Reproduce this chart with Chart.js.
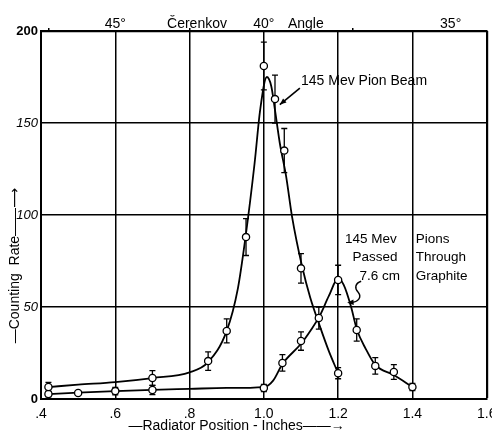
<!DOCTYPE html>
<html><head><meta charset="utf-8">
<script src="https://cdn.jsdelivr.net/npm/chart.js@4.4.0/dist/chart.umd.min.js"></script>
<style>html,body{margin:0;padding:0;background:#fff}canvas{display:block}</style>
</head><body>
<canvas id="c" width="492" height="432"></canvas>
<script>
// ---- axes ----
const xTickValues = [0.4, 0.6, 0.8, 1.0, 1.2, 1.4, 1.6];
const xTickLabels = ['.4', '.6', '.8', '1.0', '1.2', '1.4', '1.6'];
const yTickValues = [0, 50, 100, 150, 200];
const yTickLabels = ['0', '50', '100', '150', '200'];
const angleTickValues = [0.42, 0.6, 0.8, 0.82, 1.0, 1.113, 1.24, 1.503];
const angleTickLabels = ['', '45°', '', 'Čerenkov', '40°', 'Angle', '', '35°'];
const xTitle = '—Radiator Position - Inches——→';
const yTitle = '—Counting  Rate——⟶';

// ---- 145 Mev pion beam: measured points ----
const beamX   = [0.42, 0.70, 0.85, 0.90, 0.952, 1.00, 1.03, 1.055, 1.10, 1.20];
const beamY   = [6.5, 11.4, 20.6, 37, 88, 181, 163, 135, 71, 14];
const beamErr = [2.5, 4, 5, 6.5, 10, 13, 13, 12, 8, 3];
// ---- 145 Mev pion beam: drawn curve ----
const beamCurveX = [0.42, 0.5, 0.6, 0.7, 0.8, 0.85, 0.9, 0.93, 0.95, 0.975, 0.99, 1.008, 1.02, 1.03, 1.043, 1.06, 1.076, 1.103, 1.125, 1.15, 1.175, 1.2];
const beamCurveY = [6.5, 7.8, 9.2, 11.4, 14.5, 20, 37, 60, 87, 128, 157, 175, 170, 157, 139, 121, 99, 72, 55, 40, 26, 14];

// ---- pions passed through 7.6 cm graphite: measured points ----
const graphX   = [0.42, 0.50, 0.60, 0.70, 1.00, 1.05, 1.10, 1.148, 1.20, 1.25, 1.30, 1.35, 1.40];
const graphY   = [2.7, 3.3, 4.3, 4.9, 6, 19.6, 31.5, 44, 64.7, 37.5, 18, 14.7, 6.5];
const graphErr = [1.5, 0, 2, 2.5, 2, 4.5, 5, 6, 8, 6, 4.5, 4, 2];
// ---- pions passed through graphite: drawn curve ----
const graphCurveX = [0.42, 0.5, 0.6, 0.7, 0.8, 0.9, 1.0, 1.025, 1.05, 1.1, 1.125, 1.15, 1.175, 1.2, 1.215, 1.235, 1.25, 1.275, 1.3, 1.35, 1.4];
const graphCurveY = [2.7, 3.5, 4.3, 5.0, 5.5, 6.0, 6.5, 10, 19, 30, 37, 45, 56, 65.5, 62, 50, 38, 27, 18.5, 13, 6.5];

const pts = (xs, ys) => xs.map((v, i) => ({x: v, y: ys[i]}));

Chart.defaults.font.family = '"Liberation Sans", "DejaVu Sans", Arial, sans-serif';
Chart.defaults.color = '#000';

const errorBarPlugin = {
  id: 'errorBars',
  beforeDatasetsDraw(chart) {
    const {ctx, scales: {x, y}} = chart;
    ctx.save();
    ctx.strokeStyle = '#000';
    ctx.lineWidth = 1.3;
    chart.data.datasets.forEach(ds => {
      if (!ds.errorBars) return;
      ds.data.forEach((p, i) => {
        const e = ds.errorBars[i];
        if (!e) return;
        const px = x.getPixelForValue(p.x);
        const y1 = y.getPixelForValue(p.y + e), y2 = y.getPixelForValue(p.y - e);
        ctx.beginPath();
        ctx.moveTo(px, y1); ctx.lineTo(px, y2);
        ctx.moveTo(px - 3, y1); ctx.lineTo(px + 3, y1);
        ctx.moveTo(px - 3, y2); ctx.lineTo(px + 3, y2);
        ctx.stroke();
      });
    });
    ctx.restore();
  }
};

const arrowHead = (ctx, fx, fy, tx, ty, size) => {
  const a = Math.atan2(ty - fy, tx - fx);
  ctx.beginPath();
  ctx.moveTo(tx, ty);
  ctx.lineTo(tx - size * Math.cos(a - 0.4), ty - size * Math.sin(a - 0.4));
  ctx.lineTo(tx - size * Math.cos(a + 0.4), ty - size * Math.sin(a + 0.4));
  ctx.closePath();
  ctx.fill();
};

const annotationPlugin = {
  id: 'annotations',
  afterDatasetsDraw(chart) {
    const {ctx, scales: {x, y}} = chart;
    ctx.save();
    ctx.fillStyle = '#000';
    ctx.strokeStyle = '#000';
    ctx.font = '14px "Liberation Sans", Arial, sans-serif';
    ctx.textBaseline = 'middle';
    ctx.textAlign = 'left';
    ctx.fillText('145 Mev Pion Beam', x.getPixelForValue(1.1), y.getPixelForValue(173));
    // straight arrow to the beam curve
    ctx.lineWidth = 1.6;
    const ax0 = x.getPixelForValue(1.097), ay0 = y.getPixelForValue(169);
    const ax1 = x.getPixelForValue(1.043), ay1 = y.getPixelForValue(160);
    ctx.beginPath(); ctx.moveTo(ax0, ay0); ctx.lineTo(ax1, ay1); ctx.stroke();
    arrowHead(ctx, ax0, ay0, ax1, ay1, 7);

    ctx.font = '13.5px "Liberation Sans", Arial, sans-serif';
    ctx.textAlign = 'center';
    ctx.fillText('145 Mev', x.getPixelForValue(1.288), y.getPixelForValue(87));
    ctx.fillText('Passed', x.getPixelForValue(1.299), y.getPixelForValue(77.2));
    ctx.fillText('7.6 cm', x.getPixelForValue(1.312), y.getPixelForValue(66.8));
    ctx.textAlign = 'left';
    ctx.fillText('Pions', x.getPixelForValue(1.409), y.getPixelForValue(87));
    ctx.fillText('Through', x.getPixelForValue(1.409), y.getPixelForValue(77.2));
    ctx.fillText('Graphite', x.getPixelForValue(1.409), y.getPixelForValue(66.8));

    // curly arrow to the graphite curve
    const sx = x.getPixelForValue(1.262), sy = y.getPixelForValue(64);
    ctx.lineWidth = 1.4;
    ctx.beginPath();
    ctx.moveTo(sx, sy);
    ctx.bezierCurveTo(sx - 6, sy + 2, sx - 7, sy + 7, sx - 3, sy + 11);
    ctx.bezierCurveTo(sx + 1, sy + 16, sx - 3, sy + 21, sx - 10, sy + 21);
    ctx.stroke();
    arrowHead(ctx, sx - 6, sy + 21, sx - 14, sy + 21.5, 7);
    ctx.restore();
  }
};

const nb = n => '\u00A0'.repeat(n);

new Chart(document.getElementById('c'), {
  type: 'scatter',
  data: {
    datasets: [
      {label: '145 Mev Pion Beam', data: pts(beamX, beamY), errorBars: beamErr,
       pointRadius: 3.6, pointBackgroundColor: '#fff', pointBorderColor: '#000', pointBorderWidth: 1.3, showLine: false},
      {label: '145 Mev Pions Passed Through 7.6 cm Graphite', data: pts(graphX, graphY), errorBars: graphErr,
       pointRadius: 3.6, pointBackgroundColor: '#fff', pointBorderColor: '#000', pointBorderWidth: 1.3, showLine: false},
      {label: 'beam curve', data: pts(beamCurveX, beamCurveY), showLine: true, pointRadius: 0,
       borderColor: '#000', borderWidth: 1.8, cubicInterpolationMode: 'monotone', fill: false},
      {label: 'graphite curve', data: pts(graphCurveX, graphCurveY), showLine: true, pointRadius: 0,
       borderColor: '#000', borderWidth: 1.8, cubicInterpolationMode: 'monotone', fill: false}
    ]
  },
  options: {
    responsive: false,
    animation: false,
    layout: {padding: {left: 0, right: 5, top: 0, bottom: 0}},
    plugins: {legend: {display: false}, tooltip: {enabled: false}, title: {display: false}},
    scales: {
      x: {
        type: 'linear', position: 'bottom', min: 0.4, max: 1.6,
        afterBuildTicks: s => { s.ticks = xTickValues.map(v => ({value: v})); },
        afterFit: s => { s.height = 33; s.paddingLeft = 0; s.paddingRight = 0; },
        ticks: {autoSkip: false, maxRotation: 0, padding: 7, font: {size: 14}, color: '#000',
                callback: (v, i) => xTickLabels[i]},
        grid: {color: '#000', lineWidth: c => (c.index === xTickValues.length - 1 ? 2.2 : 1.5), drawTicks: false},
        border: {color: '#000', width: 2},
        title: {display: true, text: xTitle + nb(14), font: {size: 14}, color: '#000', padding: {top: 0, bottom: -3}}
      },
      x2: {
        type: 'linear', position: 'top', min: 0.4, max: 1.6,
        afterBuildTicks: s => { s.ticks = angleTickValues.map(v => ({value: v})); },
        afterFit: s => { s.height = 31; s.paddingLeft = 0; s.paddingRight = 0; },
        ticks: {autoSkip: false, maxRotation: 0, padding: -5, font: {size: 14}, color: '#000',
                callback: (v, i) => angleTickLabels[i]},
        grid: {drawOnChartArea: false, tickLength: 3, lineWidth: 1.5,
               color: c => (angleTickLabels[c.index] === '' ? '#000' : 'rgba(0,0,0,0)')},
        border: {color: '#000', width: 2}
      },
      y: {
        type: 'linear', position: 'left', min: 0, max: 200,
        afterBuildTicks: s => { s.ticks = yTickValues.map(v => ({value: v})); },
        afterFit: s => { s.width = 41; s.paddingTop = 0; s.paddingBottom = 0; },
        ticks: {autoSkip: false, padding: 3, color: '#000',
                font: c => (c.index === 0 || c.index === yTickValues.length - 1)
                  ? {size: 13, weight: 'bold'} : {size: 13, style: 'italic'},
                callback: (v, i) => yTickLabels[i]},
        grid: {color: '#000', lineWidth: c => (c.index === yTickValues.length - 1 ? 2.2 : 1.5), drawTicks: false},
        border: {color: '#000', width: 2},
        title: {display: true, text: yTitle + nb(26), font: {size: 14}, color: '#000', padding: {top: 7, bottom: 0}}
      }
    }
  },
  plugins: [errorBarPlugin, annotationPlugin]
});
</script>
</body></html>
